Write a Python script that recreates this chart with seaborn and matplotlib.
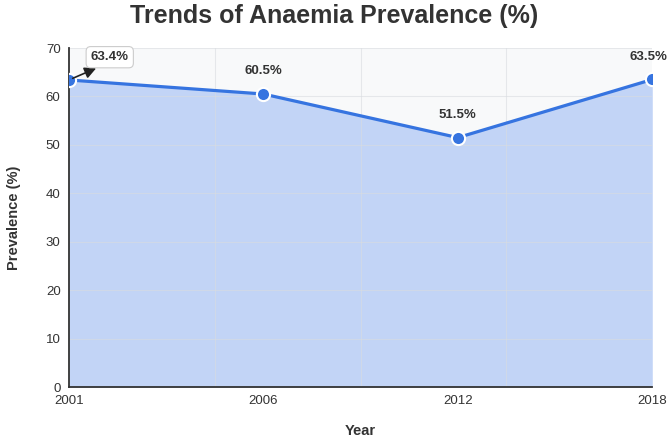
import matplotlib
matplotlib.use("Agg")
import matplotlib.pyplot as plt
import seaborn as sns
import pandas as pd
import numpy as np

years = ["2001", "2006", "2012", "2018"]
prevalence = [63.4, 60.5, 51.5, 63.5]
labels = ["63.4%", "60.5%", "51.5%", "63.5%"]
y_ticks = [0, 10, 20, 30, 40, 50, 60, 70]

sns.set_theme(style="white")
plt.rcParams['font.family'] = ['Liberation Sans', 'DejaVu Sans']

df = pd.DataFrame({"Year": years, "Prevalence": prevalence})

fig = plt.figure(figsize=(6.69, 4.38), dpi=100)
ax = fig.add_axes([0.103, 0.1164, 0.872, 0.774])
ax.set_facecolor("#f8f9fa")

line_color = "#3674e0"
xs = np.arange(len(years))
ax.fill_between(xs, prevalence, 0, color="#c2d4f6", zorder=1, linewidth=0)
sns.lineplot(data=df, x="Year", y="Prevalence", ax=ax, color=line_color, linewidth=2.3,
             marker="o", markersize=9.5, markeredgecolor="white", markeredgewidth=1.5,
             zorder=3, sort=False)

ax.set_xlim(0, 3)
ax.set_ylim(0, 70)
ax.set_yticks(y_ticks)
ax.set_xticks(xs)
ax.set_xticklabels(years)

for v in y_ticks[1:]:
    ax.axhline(v, color="#d9dce0", linewidth=0.8, zorder=1.5, alpha=0.6)
for gx in [0.75, 1.5, 2.25]:
    ax.axvline(gx, color="#d9dce0", linewidth=0.8, zorder=1.5, alpha=0.6)

for s in ["top", "right"]:
    ax.spines[s].set_visible(False)
for s in ["left", "bottom"]:
    ax.spines[s].set_color("#333333")
    ax.spines[s].set_linewidth(1.3)

ax.tick_params(axis="both", length=0, labelsize=9.5, colors="#333333", pad=6)

ax.set_xlabel("Year", fontsize=10.5, fontweight="bold", color="#333333")
ax.xaxis.set_label_coords(0.5, -0.13)
ax.xaxis.label.set_va("center")
ax.set_ylabel("Prevalence (%)", fontsize=10.5, fontweight="bold", color="#333333", labelpad=18)
fig.suptitle("Trends of Anaemia Prevalence (%)", fontsize=18, fontweight="bold",
             color="#333333", y=0.99)

# annotations
ax.annotate(labels[0], xy=(0, prevalence[0]), xytext=(0.21, 68.1),
            fontsize=9.5, fontweight="bold", color="#333333", ha="center", va="center",
            bbox=dict(boxstyle="round,pad=0.35", fc="white", ec="#cccccc", lw=0.8),
            arrowprops=dict(arrowstyle="<|-", color="#222222", lw=1.2, shrinkA=0, shrinkB=3,
                            mutation_scale=17, relpos=(0.45, 0.0)),
            zorder=5, annotation_clip=False)
offsets = [None, (0, 12), (0, 12), (-3, 12)]
for i in range(1, len(years)):
    ax.annotate(labels[i], xy=(i, prevalence[i]), xytext=offsets[i], textcoords="offset points",
                fontsize=9.5, fontweight="bold", color="#333333", ha="center", va="bottom",
                zorder=5, annotation_clip=False)

fig.savefig("out.png", dpi=100)
